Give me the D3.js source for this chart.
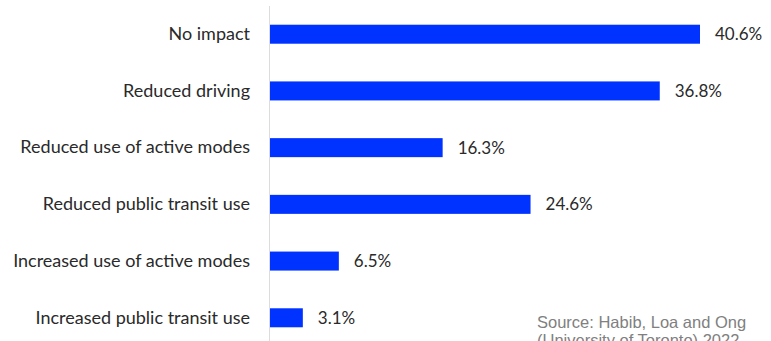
<!DOCTYPE html>
<html>
<head>
<meta charset="utf-8">
<script src="https://cdn.jsdelivr.net/npm/d3@7"></script>
<style>
	body { margin: 0; background: #fff; }
	svg { display: block; }
</style>
</head>
<body>
<div id="chart"></div>
<script>
var categories = [
	"No impact",
	"Reduced driving",
	"Reduced use of active modes",
	"Reduced public transit use",
	"Increased use of active modes",
	"Increased public transit use"
];
var values = [40.6, 36.8, 16.3, 24.6, 6.5, 3.1];
var sourceLines = ["Source: Habib, Loa and Ong", "(University of Toronto) 2022"];

var width = 771,
    height = 341,
    margin = {top: 6, right: 71, bottom: 0, left: 270},
    height_g = 346 - margin.top - margin.bottom;

var svg = d3.select("#chart")
	.append("svg")
	.attr("width", width)
	.attr("height", height);

var x = d3.scaleLinear()
	.domain([0, 40.6])
	.range([0, 430]);

var y = d3.scaleBand()
	.domain(categories)
	.range([0, height_g])
	.paddingInner(0.665)
	.paddingOuter(0.33);

var frg = svg.append("g")
	.attr("transform", "translate(" + margin.left + "," + margin.top + ")");

// bars
frg.selectAll("rect.bar")
	.data(values)
	.enter()
	.append("rect")
	.attr("class", "bar")
	.attr("x", x(0))
	.attr("y", function (d, i) { return y(categories[i]); })
	.attr("width", function (d) { return x(d) - x(0); })
	.attr("height", y.bandwidth())
	.attr("fill", "#0033ff");

// category axis, only the line and labels
var yAxis = d3.axisLeft(y).tickSize(0).tickPadding(20);
var ya = frg.append("g")
	.attr("class", "axis yaxis")
	.call(yAxis);
ya.select(".domain")
	.attr("stroke", "#dcdcdc")
	.attr("d", "M-0.5,0V" + height_g);
ya.selectAll("text")
	.attr("font-family", "Lato, 'Open Sans', sans-serif")
	.attr("font-size", 18)
	.attr("fill", "#2a2a2a");

// value labels
frg.selectAll("text.val")
	.data(values)
	.enter()
	.append("text")
	.attr("class", "val")
	.attr("x", function (d) { return x(d) + 15; })
	.attr("y", function (d, i) { return y(categories[i]) + y.bandwidth() / 2; })
	.attr("dy", "0.35em")
	.attr("font-family", "Lato, 'Open Sans', sans-serif")
	.attr("font-size", 17)
	.attr("fill", "#2a2a2a")
	.text(function (d) { return d.toFixed(1) + "%"; });

// source note
svg.append("g")
	.selectAll("text")
	.data(sourceLines)
	.enter()
	.append("text")
	.attr("x", 537)
	.attr("y", function (d, i) { return 328 + i * 18; })
	.attr("font-family", "'Liberation Sans', Arial, sans-serif")
	.attr("font-size", 16.5)
	.attr("fill", "#808080")
	.text(function (d) { return d; });
</script>
</body>
</html>
